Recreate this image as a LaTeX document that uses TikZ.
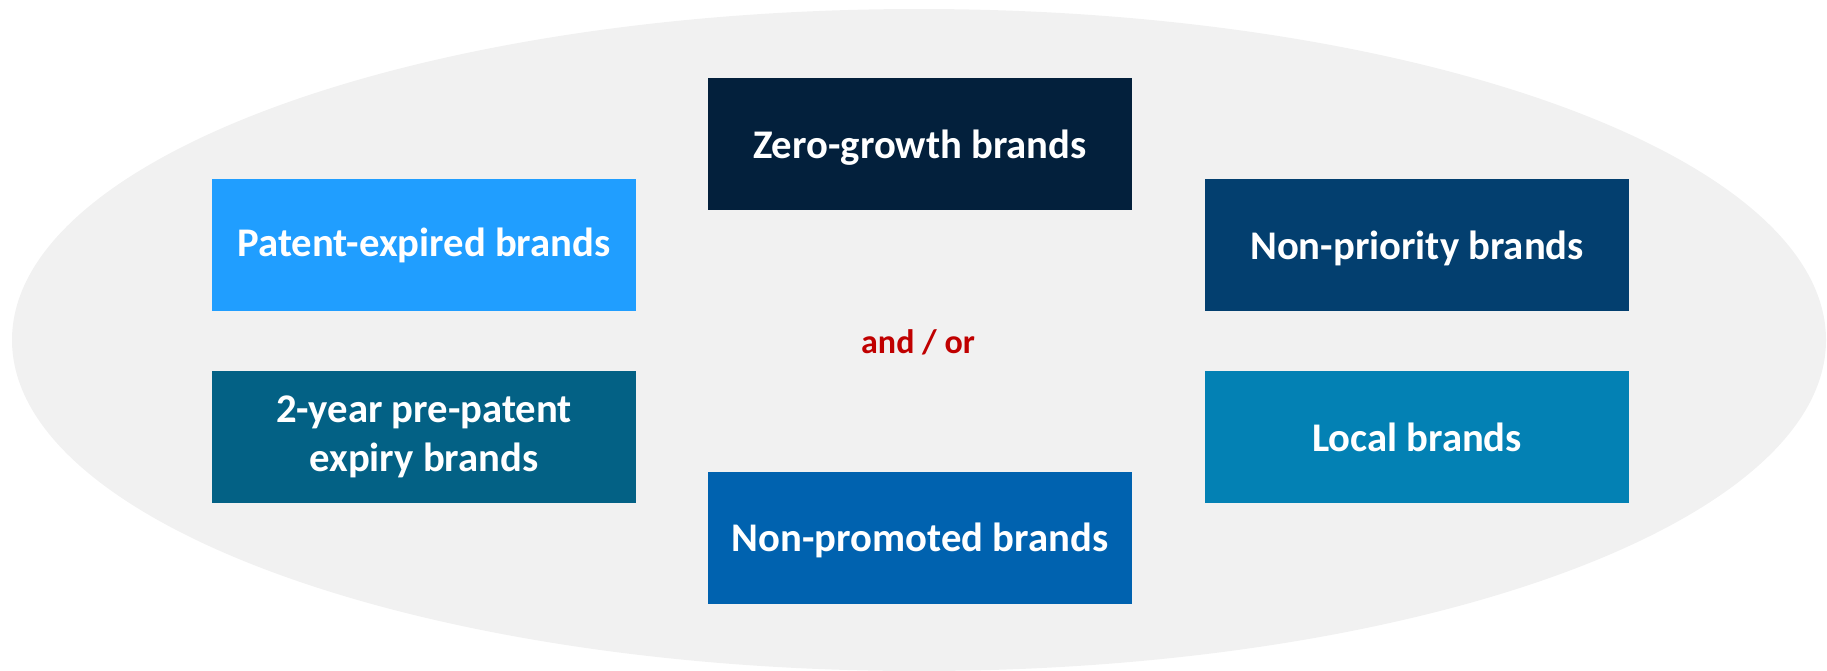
\documentclass[tikz,border=0pt]{standalone}
\usepackage{fontspec}
\setmainfont{Carlito}
\definecolor{bgell}{HTML}{F1F1F1}
\definecolor{czero}{HTML}{03203C}
\definecolor{cpatent}{HTML}{209EFF}
\definecolor{cprio}{HTML}{033F6F}
\definecolor{ctwo}{HTML}{036185}
\definecolor{clocal}{HTML}{0381B4}
\definecolor{cpromo}{HTML}{0062AF}
\definecolor{cred}{HTML}{C00000}
\newcommand{\lowertxt}[2]{\raisebox{-#1}[\height][\depth]{#2}}
\tikzset{
  brandbox/.style={minimum width=424pt, minimum height=132pt, inner sep=0pt,
    text=white, align=center, font=\fontsize{40.7}{49}\selectfont\bfseries},
  joinlabel/.style={text=cred, font=\fontsize{34}{40}\selectfont\bfseries, inner sep=0pt}
}
\begin{document}
\begin{tikzpicture}[x=1pt,y=1pt]
\useasboundingbox (0,0) rectangle (1827,-670);
\fill[bgell] (919,-340) ellipse [x radius=907, y radius=331];
\node[brandbox, fill=czero] (zero) at (920,-144) {\lowertxt{4pt}{Zero-growth brands}};
\node[brandbox, fill=cpatent] (patent) at (424,-245) {Patent-expired brands};
\node[brandbox, fill=cprio] (prio) at (1417,-245) {\lowertxt{3pt}{Non-priority brands}};
\node[brandbox, fill=ctwo] (two) at (424,-437) {2-year pre-patent\\expiry brands};
\node[brandbox, fill=clocal] (local) at (1417,-437) {Local brands};
\node[brandbox, fill=cpromo] (promo) at (920,-537.5) {\lowertxt{3pt}{Non-promoted brands}};
\node[joinlabel] (andor) at (918,-342) {and / or};
\end{tikzpicture}
\end{document}
